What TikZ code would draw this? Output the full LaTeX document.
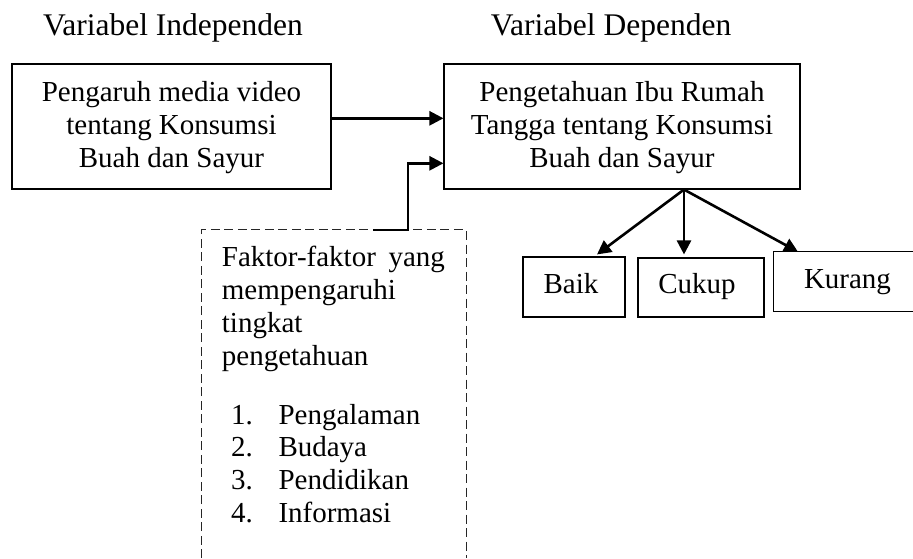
\documentclass[tikz,border=0pt]{standalone}
\usepackage{fontspec}
\setmainfont{Liberation Serif}
\usetikzlibrary{arrows.meta}
\begin{document}
\begin{tikzpicture}[x=1pt,y=-1pt,
  box/.style={draw=black, line width=1.1pt, inner sep=0pt, rectangle},
  frame/.style={inner sep=0pt, rectangle},
  body/.style={font=\fontsize{29}{33}\selectfont, inner sep=0pt},
  head/.style={font=\fontsize{31.5}{36}\selectfont, inner sep=0pt, anchor=base},
  dashbox/.style={draw=black!85, line width=1pt, dash pattern=on 9pt off 4.5pt},
  arr/.style={line width=2.6pt, -{Triangle[length=14pt,width=14pt]}},
]
\useasboundingbox (0,0) rectangle (913,558);

% headers
\node[head] (h1) at (173,35) {Variabel Independen};
\node[head] (h2) at (611,35) {Variabel Dependen};

% main boxes
\node[box, minimum width=319pt, minimum height=125pt] (b1) at (171.5,126.5) {};
\node[body, align=center, anchor=base] (t1) at (171.5,167.3)
  {Pengaruh media video\\tentang Konsumsi\\Buah dan Sayur};
\node[box, minimum width=356pt, minimum height=125pt] (b2) at (622,126.5) {};
\node[body, align=center, anchor=base] (t2) at (622,167.3)
  {Pengetahuan Ibu Rumah\\Tangga tentang Konsumsi\\Buah dan Sayur};

% dashed factor box (open at bottom)
\node[frame, minimum width=264pt, minimum height=328pt] (fk) at (334,394) {};
\draw[dashbox] (fk.south west) -- (fk.north west) -- (fk.north east) -- (fk.south east);
\node[body, anchor=base west] (f1) at (221.7,266) {\makebox[223pt][s]{Faktor-faktor yang}};
\node[body, anchor=base west] (f2) at (221.7,299.3) {mempengaruhi};
\node[body, anchor=base west] (f3) at (221.7,332.6) {tingkat};
\node[body, anchor=base west] (f4) at (221.7,365.9) {pengetahuan};
\node[body, anchor=base west] (n1) at (231,424) {1.};
\node[body, anchor=base west] (n2) at (231,456.9) {2.};
\node[body, anchor=base west] (n3) at (231,489.8) {3.};
\node[body, anchor=base west] (n4) at (231,522.7) {4.};
\node[body, anchor=base west] (i1) at (278.3,424) {Pengalaman};
\node[body, anchor=base west] (i2) at (278.3,456.9) {Budaya};
\node[body, anchor=base west] (i3) at (278.3,489.8) {Pendidikan};
\node[body, anchor=base west] (i4) at (278.3,522.7) {Informasi};

% category boxes
\node[box, minimum width=102pt, minimum height=60pt] (baik) at (574,287) {};
\node[body, anchor=base] (baikt) at (571,293.3) {Baik};
\node[box, minimum width=126pt, minimum height=59pt] (cukup) at (701,287.5) {};
\node[body, anchor=base] (cukupt) at (697,293.3) {Cukup};
\node[frame, minimum width=139pt, minimum height=59pt] (kur) at (843.5,281.5) {};
\draw[line width=1.1pt] (kur.north east) -- (kur.north west) -- (kur.south west) -- (kur.south east);
\node[body, anchor=base] (kurt) at (847.5,288.3) {Kurang};

% connectors
\draw[arr] ([yshift=8.2pt]b1.east) -- ([yshift=8.2pt]b2.west);
\draw[arr] ([xshift=39pt]fk.north) -- ([xshift=74pt]fk.north) |- ([yshift=-36.8pt]b2.west);
\draw[arr] ([xshift=62pt]b2.south) -- ([xshift=23pt,yshift=2pt]baik.north);
\draw[arr] ([xshift=62pt]b2.south) -- ([xshift=-17pt,yshift=3pt]cukup.north);
\draw[arr] ([xshift=62pt]b2.south) -- ([xshift=-45.5pt]kur.north);
\end{tikzpicture}
\end{document}
